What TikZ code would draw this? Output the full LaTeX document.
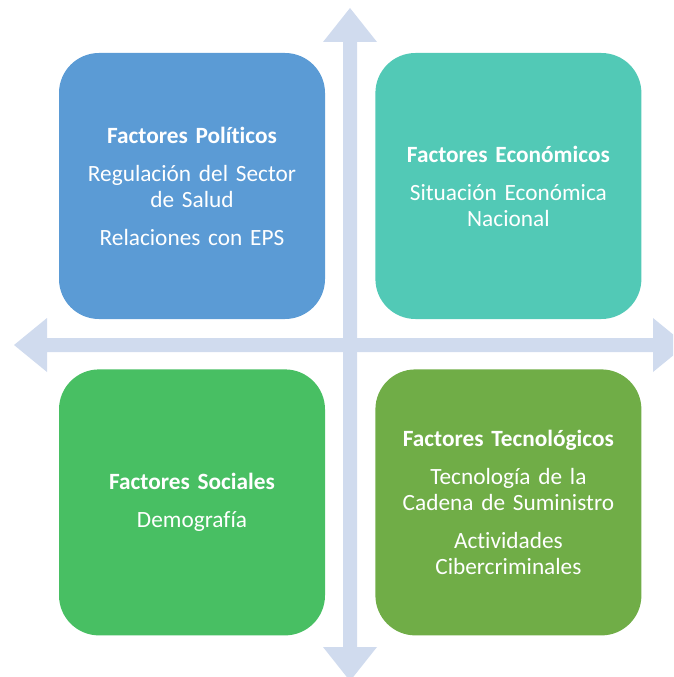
\documentclass[tikz,border=0pt]{standalone}
\usepackage{fontspec}
\setmainfont{Carlito}[Ligatures=NoCommon]
\usetikzlibrary{positioning}
\definecolor{ejeazul}{HTML}{D0DBEE}
\definecolor{cpolitico}{HTML}{5B9BD5}
\definecolor{ceconomico}{HTML}{52C9B6}
\definecolor{csocial}{HTML}{48BF63}
\definecolor{ctecno}{HTML}{70AD47}

\begin{document}
\begin{tikzpicture}[x=1pt, y=-1pt,
    cuadro/.style={rectangle, rounded corners=40pt, minimum width=266pt, minimum height=266pt,
        inner sep=0pt, text width=250pt, align=center, text=white,
        font=\fontsize{23.3}{26}\selectfont}]
    \useasboundingbox (0,0) rectangle (673,677);
    \clip (0,0) rectangle (673,677);
    % ejes
    \fill[ejeazul] (350,8) -- (377,42) -- (357,42) -- (357,647) -- (377,647) -- (350,681)
        -- (323,647) -- (343,647) -- (343,42) -- (323,42) -- cycle;
    \fill[ejeazul] (14,345) -- (47,318) -- (47,338) -- (653,338) -- (653,318) -- (686,345)
        -- (653,372) -- (653,352) -- (47,352) -- (47,372) -- cycle;
    % cuadrantes
    \node[cuadro, fill=cpolitico] (politicos) at (192,186)
        {\textbf{Factores Políticos}\\[12pt] Regulación del Sector\\de Salud\\[12pt] Relaciones con EPS};
    \node[cuadro, fill=ceconomico, right=50pt of politicos] (economicos)
        {\textbf{Factores Económicos}\\[12pt] Situación Económica\\Nacional};
    \node[cuadro, fill=csocial, below=50pt of politicos] (sociales)
        {\textbf{Factores Sociales}\\[12pt] Demografía};
    \node[cuadro, fill=ctecno, right=50pt of sociales] (tecnologicos)
        {\textbf{Factores Tecnológicos}\\[12pt] Tecnología de la\\Cadena de Suministro\\[12pt] Actividades\\Cibercriminales};
\end{tikzpicture}
\end{document}
